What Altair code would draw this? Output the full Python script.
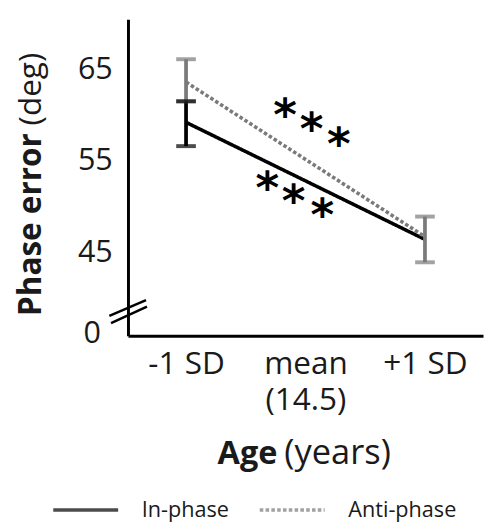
import altair as alt
import pandas as pd

# ---------------- data ----------------
series = ["In-phase", "Anti-phase"]
series_colors = ["#000000", "#7a7a7a"]

# age positions (in SD units) and their labels
age_pos = [-1, 0, 1]
age_labels = ["-1 SD", "mean|(14.5)", "+1 SD"]

# line end points (-1 SD, +1 SD)
line_x = [-1, 1]
in_phase = [59.2, 46.4]
anti_phase = [63.6, 46.7]

# error bars (anti-phase first so in-phase is drawn on top)
err_series = ["Anti-phase", "Anti-phase", "In-phase"]
err_x = [-1, 1, -1]
err_low = [61.5, 43.9, 56.6]
err_high = [66.1, 48.9, 61.5]

# y axis ticks (bottom one is the broken-axis zero)
y_tick_values = [36.1, 45, 55, 65]
y_tick_labels = ["0", "45", "55", "65"]

# significance asterisks
star_x = [-0.17, 0.05, 0.28, -0.32, -0.10, 0.14]
star_y = [61.1, 59.5, 57.9, 53.1, 51.7, 50.1]

# axis-break marks
brk_x = [-1.642, -1.628]
brk_x2 = [-1.335, -1.327]
brk_y = [38.04, 37.26]
brk_y2 = [39.76, 39.05]

FONT = "Open Sans"
TXT = "#1a1a1a"

# ---------------- frames ----------------
lines_df = pd.DataFrame({
    "age": line_x * 2,
    "value": in_phase + anti_phase,
    "series": [series[0]] * 2 + [series[1]] * 2,
})
err_df = pd.DataFrame({"series": err_series, "age": err_x, "low": err_low, "high": err_high})
stars_df = pd.DataFrame({"age": star_x, "value": star_y, "t": ["*"] * len(star_x)})
brk_df = pd.DataFrame({"x": brk_x, "x2": brk_x2, "y": brk_y, "y2": brk_y2})

label_map = "{" + ",".join(f"'{p}': '{l}'" for p, l in zip(age_pos, age_labels)) + "}"
x_label_expr = f"split({label_map}[datum.value + ''], '|')"
y_label_map = "{" + ",".join(f"'{v}': '{l}'" for v, l in zip(y_tick_values, y_tick_labels)) + "}"
y_label_expr = f"{y_label_map}[datum.value + '']"

x_scale = alt.Scale(domain=[-1.486, 1.486], nice=False, zero=False)
y_scale = alt.Scale(domain=[35.86, 70.48], nice=False, zero=False)
color_scale = alt.Scale(domain=series, range=series_colors)

x_axis = alt.Axis(values=age_pos, labelExpr=x_label_expr, title=None,
                  labelFontSize=32, labelPadding=13, labelLineHeight=37,
                  labelBaseline="top", labelFlush=False, labelOverlap=False)
y_axis = alt.Axis(values=y_tick_values, labelExpr=y_label_expr, title=None,
                  labelFontSize=31,
                  labelPadding={"condition": {"test": "datum.value < 40", "value": 28}, "value": 16},
                  labelOverlap=False, labelFlush=False)

X = alt.X("age:Q", scale=x_scale, axis=x_axis)
Y = alt.Y("value:Q", scale=y_scale, axis=y_axis)

legend = alt.Legend(orient="none", legendX=-78, legendY=464, direction="horizontal",
                    title=None, symbolType="stroke", symbolSize=66 * 66,
                    symbolStrokeWidth=3.5, labelFontSize=22, labelFont=FONT,
                    labelColor=TXT, labelOffset=22, columnPadding=24)

color = alt.Color("series:N", scale=color_scale, legend=legend)

lines = alt.Chart(lines_df).mark_line(strokeWidth=3.6, strokeCap="butt").encode(
    x=X, y=Y, color=color,
    strokeDash=alt.StrokeDash("series:N", scale=alt.Scale(domain=series, range=[[1, 0], [3.6, 2.3]]),
                              legend=legend),
)

err_rule = alt.Chart(err_df).mark_rule(strokeWidth=3.8).encode(
    x=alt.X("age:Q", scale=x_scale), y=alt.Y("low:Q", scale=y_scale), y2="high:Q", color=color)
cap_lo = alt.Chart(err_df).mark_tick(orient="horizontal", size=20, thickness=4).encode(
    x=alt.X("age:Q", scale=x_scale), y=alt.Y("low:Q", scale=y_scale), color=color)
cap_hi = alt.Chart(err_df).mark_tick(orient="horizontal", size=20, thickness=4).encode(
    x=alt.X("age:Q", scale=x_scale), y=alt.Y("high:Q", scale=y_scale), color=color)

stars = alt.Chart(stars_df).mark_text(font="DejaVu Sans", fontWeight="bold", fontSize=46,
                                      baseline="alphabetic", dy=25, color="#000000").encode(
    x=alt.X("age:Q", scale=x_scale), y=alt.Y("value:Q", scale=y_scale), text="t:N")

breaks = alt.Chart(brk_df).mark_rule(strokeWidth=2.5, color="#000000").encode(
    x=alt.X("x:Q", scale=x_scale), x2="x2:Q", y=alt.Y("y:Q", scale=y_scale), y2="y2:Q")

title_df = pd.DataFrame({"a": [0]})
ytitle_bold = alt.Chart(title_df).mark_text(text="Phase error", font=FONT, fontWeight="bold",
                                            fontSize=32, angle=270, align="right",
                                            baseline="alphabetic", color=TXT).encode(
    x=alt.value(-88), y=alt.value(116))
ytitle_norm = alt.Chart(title_df).mark_text(text="(deg)", font=FONT, fontSize=32, angle=270,
                                            align="left", baseline="alphabetic", color=TXT).encode(
    x=alt.value(-88), y=alt.value(108))
xtitle_bold = alt.Chart(title_df).mark_text(text="Age", font=FONT, fontWeight="bold", fontSize=33,
                                            align="right", baseline="alphabetic", color=TXT).encode(
    x=alt.value(152), y=alt.value(452))
xtitle_norm = alt.Chart(title_df).mark_text(text="(years)", font=FONT, fontSize=35,
                                            align="left", baseline="alphabetic", color=TXT).encode(
    x=alt.value(159), y=alt.value(452))

chart = alt.layer(
    lines, err_rule, cap_lo, cap_hi, stars, breaks,
    ytitle_bold, ytitle_norm, xtitle_bold, xtitle_norm,
).properties(
    width=361, height=322,
    autosize=alt.AutoSizeParams(type="none"),
    padding={"left": 122, "top": 7, "right": 1, "bottom": 189},
).configure_view(stroke=None).configure_axis(
    domainColor="#000000", domainWidth=3, ticks=False, grid=False,
    labelFont=FONT, labelColor=TXT,
)

chart.save("out.html", embed_options={"renderer": "svg", "actions": False})
